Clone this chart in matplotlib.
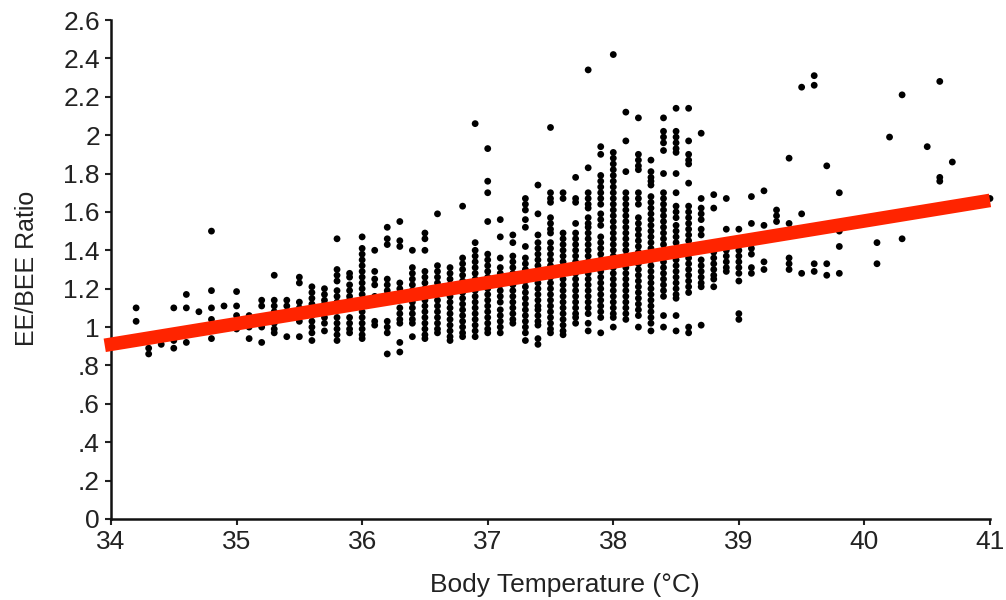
import matplotlib
matplotlib.use("Agg")
import matplotlib.pyplot as plt

plt.rcParams['font.family'] = ['Liberation Sans', 'DejaVu Sans']

# Body temperature columns (deg C) and the EE/BEE ratios read at each one
column_temps = [34.2, 34.3, 34.4, 34.5, 34.6, 34.7, 34.8, 34.9, 35.0, 35.1,
                35.2, 35.3, 35.4, 35.5, 35.6, 35.7, 35.8, 35.9, 36.0, 36.1,
                36.2, 36.3, 36.4, 36.5, 36.6, 36.7, 36.8, 36.9, 37.0, 37.1,
                37.2, 37.3, 37.4, 37.5, 37.6, 37.7, 37.8, 37.9, 38.0, 38.1,
                38.2, 38.3, 38.4, 38.5, 38.6, 38.7, 38.8, 38.9, 39.0, 39.1,
                39.2, 39.3, 39.4, 39.5, 39.6, 39.7, 39.8, 40.1, 40.2, 40.3,
                40.5, 40.6, 40.7, 41.0]

column_ratios = [
    [1.10, 1.03],
    [0.89, 0.86],
    [0.91],
    [1.10, 0.93, 0.89],
    [1.17, 1.10, 0.92],
    [1.08],
    [1.50, 1.19, 1.10, 1.04, 0.94],
    [1.11],
    [1.185, 1.11, 1.06, 0.99],
    [1.06, 1.00, 0.94],
    [1.14, 1.11, 1.00, 0.92],
    [1.27, 1.14, 1.11, 1.08, 1.05, 1.02, 0.99, 0.97],
    [1.14, 1.11, 1.08, 1.05, 0.95],
    [1.26, 1.23, 1.13, 1.10, 1.07, 1.03, 0.95],
    [1.21, 1.18, 1.15, 1.12, 1.09, 1.06, 1.03, 1.00, 0.97, 0.93],
    [1.20, 1.17, 1.14, 1.12, 1.05, 1.02, 0.98],
    [1.46, 1.30, 1.27, 1.24, 1.19, 1.16, 1.13, 1.05, 1.02, 0.99, 0.96, 0.93],
    [1.28, 1.26, 1.22, 1.19, 1.16, 1.14, 1.05, 1.02, 0.99, 0.97],
    [1.47, 1.41, 1.38, 1.35, 1.32, 1.29, 1.26, 1.23, 1.20, 1.17, 1.14, 1.11,
     1.08, 1.05, 1.02, 0.99, 0.96, 0.94],
    [1.40, 1.29, 1.25, 1.22, 1.16, 1.03, 1.01],
    [1.52, 1.46, 1.43, 1.25, 1.22, 1.19, 1.17, 1.03, 1.00, 0.97, 0.86],
    [1.55, 1.45, 1.42, 1.23, 1.20, 1.10, 1.07, 1.04, 1.02, 0.92, 0.87],
    [1.40, 1.31, 1.28, 1.25, 1.22, 1.19, 1.16, 1.13, 1.10, 1.07, 1.04, 1.02,
     0.95],
    [1.49, 1.46, 1.40, 1.29, 1.26, 1.23, 1.20, 1.17, 1.14, 1.11, 1.08, 1.05,
     1.02, 0.99, 0.96, 0.94],
    [1.59, 1.32, 1.29, 1.26, 1.23, 1.20, 1.17, 1.14, 1.11, 1.08, 1.05, 1.02,
     0.99, 0.97],
    [1.31, 1.28, 1.25, 1.22, 1.19, 1.16, 1.13, 1.10, 1.07, 1.04, 1.01, 0.98,
     0.95, 0.93],
    [1.63, 1.36, 1.33, 1.30, 1.27, 1.24, 1.21, 1.18, 1.15, 1.12, 1.09, 1.06,
     1.03, 1.00, 0.97, 0.95],
    [2.06, 1.44, 1.40, 1.37, 1.34, 1.31, 1.28, 1.25, 1.22, 1.19, 1.16, 1.13,
     1.10, 1.07, 1.04, 1.01, 0.98, 0.95],
    [1.93, 1.76, 1.70, 1.55, 1.38, 1.35, 1.32, 1.29, 1.26, 1.23, 1.20, 1.17,
     1.14, 1.11, 1.08, 1.05, 1.02, 0.99, 0.97],
    [1.56, 1.47, 1.36, 1.31, 1.28, 1.25, 1.22, 1.19, 1.16, 1.13, 1.09, 1.06,
     1.03, 1.00, 0.97],
    [1.48, 1.44, 1.37, 1.34, 1.31, 1.28, 1.25, 1.22, 1.19, 1.16, 1.13, 1.10,
     1.07, 1.04, 1.02],
    [1.67, 1.64, 1.61, 1.56, 1.52, 1.42, 1.36, 1.33, 1.30, 1.27, 1.24, 1.21,
     1.18, 1.15, 1.12, 1.09, 1.06, 1.03, 1.00, 0.97, 0.93],
    [1.74, 1.59, 1.48, 1.44, 1.41, 1.38, 1.35, 1.32, 1.29, 1.26, 1.23, 1.20,
     1.17, 1.14, 1.11, 1.09, 1.06, 1.03, 1.01, 0.94, 0.91],
    [2.04, 1.70, 1.67, 1.65, 1.57, 1.54, 1.51, 1.49, 1.44, 1.41, 1.38, 1.35,
     1.32, 1.29, 1.26, 1.23, 1.20, 1.17, 1.14, 1.11, 1.08, 1.05, 1.02, 0.99,
     0.97],
    [1.70, 1.67, 1.49, 1.46, 1.43, 1.40, 1.37, 1.34, 1.31, 1.28, 1.25, 1.22,
     1.19, 1.16, 1.13, 1.10, 1.07, 1.04, 1.01, 0.98, 0.96],
    [1.78, 1.67, 1.65, 1.54, 1.49, 1.46, 1.43, 1.40, 1.37, 1.34, 1.31, 1.28,
     1.25, 1.22, 1.19, 1.16, 1.13, 1.10, 1.07, 1.05, 1.02],
    [2.34, 1.83, 1.70, 1.67, 1.64, 1.62, 1.57, 1.54, 1.52, 1.49, 1.46, 1.43,
     1.40, 1.37, 1.34, 1.31, 1.28, 1.25, 1.22, 1.19, 1.16, 1.13, 1.10, 1.07,
     1.02, 0.98],
    [1.94, 1.90, 1.79, 1.76, 1.73, 1.70, 1.67, 1.64, 1.59, 1.56, 1.53, 1.47,
     1.44, 1.41, 1.38, 1.35, 1.32, 1.29, 1.26, 1.23, 1.20, 1.17, 1.14, 1.11,
     1.08, 1.05, 0.97],
    [2.42, 1.91, 1.88, 1.85, 1.82, 1.79, 1.76, 1.73, 1.70, 1.67, 1.64, 1.61,
     1.58, 1.55, 1.52, 1.49, 1.46, 1.43, 1.40, 1.37, 1.34, 1.31, 1.28, 1.25,
     1.22, 1.19, 1.16, 1.13, 1.10, 1.07, 1.05, 1.00],
    [2.12, 1.97, 1.81, 1.70, 1.67, 1.64, 1.61, 1.58, 1.55, 1.52, 1.49, 1.46,
     1.43, 1.40, 1.37, 1.34, 1.31, 1.28, 1.25, 1.22, 1.19, 1.16, 1.13, 1.10,
     1.07, 1.04],
    [2.09, 1.90, 1.87, 1.84, 1.82, 1.70, 1.67, 1.64, 1.57, 1.54, 1.51, 1.48,
     1.45, 1.42, 1.39, 1.36, 1.33, 1.30, 1.27, 1.24, 1.21, 1.18, 1.15, 1.12,
     1.09, 1.06, 1.00],
    [1.87, 1.81, 1.78, 1.76, 1.74, 1.68, 1.65, 1.62, 1.59, 1.56, 1.53, 1.50,
     1.47, 1.44, 1.41, 1.38, 1.35, 1.32, 1.29, 1.26, 1.23, 1.20, 1.17, 1.14,
     1.11, 1.08, 1.05, 1.02, 0.98],
    [2.09, 2.02, 1.99, 1.96, 1.92, 1.80, 1.70, 1.67, 1.64, 1.61, 1.58, 1.55,
     1.52, 1.49, 1.46, 1.43, 1.40, 1.37, 1.34, 1.31, 1.28, 1.25, 1.22, 1.19,
     1.16, 1.06, 1.00],
    [2.14, 2.02, 1.99, 1.96, 1.93, 1.91, 1.80, 1.70, 1.63, 1.60, 1.57, 1.53,
     1.50, 1.47, 1.44, 1.41, 1.38, 1.35, 1.32, 1.29, 1.26, 1.23, 1.20, 1.17,
     1.15, 1.06, 0.98],
    [2.14, 1.97, 1.90, 1.87, 1.85, 1.75, 1.63, 1.60, 1.57, 1.54, 1.51, 1.48,
     1.45, 1.36, 1.33, 1.30, 1.27, 1.24, 1.21, 1.18, 1.00, 0.97],
    [2.01, 1.67, 1.62, 1.59, 1.56, 1.51, 1.48, 1.35, 1.32, 1.29, 1.26, 1.23,
     1.21, 1.01],
    [1.69, 1.62, 1.42, 1.39, 1.36, 1.33, 1.30, 1.27, 1.25, 1.21],
    [1.67, 1.51, 1.40, 1.37, 1.34, 1.31, 1.29],
    [1.51, 1.46, 1.43, 1.40, 1.37, 1.34, 1.31, 1.28, 1.24, 1.07, 1.04],
    [1.68, 1.54, 1.44, 1.41, 1.38, 1.31, 1.28],
    [1.71, 1.53, 1.34, 1.30],
    [1.61, 1.58, 1.55],
    [1.88, 1.54, 1.36, 1.33, 1.30],
    [2.25, 1.59, 1.28],
    [2.31, 2.26, 1.33, 1.29],
    [1.84, 1.33, 1.27],
    [1.70, 1.50, 1.42, 1.28],
    [1.44, 1.33],
    [1.99],
    [2.21, 1.46],
    [1.94],
    [2.28, 1.78, 1.76],
    [1.86],
    [1.67],
]

# Regression line end points
fit_temps = [33.95, 41.0]
fit_ratios = [0.905, 1.66]

x_ticks = [34, 35, 36, 37, 38, 39, 40, 41]
y_ticks = [0, 0.2, 0.4, 0.6, 0.8, 1.0, 1.2, 1.4, 1.6, 1.8, 2.0, 2.2, 2.4, 2.6]
y_tick_labels = ["0", ".2", ".4", ".6", ".8", "1", "1.2", "1.4", "1.6",
                 "1.8", "2", "2.2", "2.4", "2.6"]

fig = plt.figure(figsize=(10.06, 6.0), dpi=100)
ax = fig.add_axes([111 / 1006, 1 - 519 / 600, (990 - 111) / 1006, (519 - 20) / 600])

xs, ys = [], []
for t, col in zip(column_temps, column_ratios):
    for r in col:
        xs.append(t)
        ys.append(r)
ax.scatter(xs, ys, s=24, c='black', edgecolors='none', zorder=2, clip_on=False)

ax.plot(fit_temps, fit_ratios, color='#FF2400', linewidth=9.8,
        solid_capstyle='butt', zorder=3, clip_on=False)

ax.set_xlim(34, 41)
ax.set_ylim(0, 2.6)
ax.set_xticks(x_ticks)
ax.set_xticklabels([str(v) for v in x_ticks])
ax.set_yticks(y_ticks)
ax.set_yticklabels(y_tick_labels)

for side in ['top', 'right']:
    ax.spines[side].set_visible(False)
for side in ['left', 'bottom']:
    ax.spines[side].set_linewidth(1.8)
    ax.spines[side].set_color('#111111')

ax.tick_params(axis='both', direction='out', length=4, width=1.5,
               labelsize=19, colors='#222222', pad=4)

ax.set_xlabel("Body Temperature (°C)", fontsize=19, color='#222222')
ax.xaxis.set_label_coords((565 - 111) / (990 - 111), -(585 - 519) / (519 - 20),
                          transform=ax.transAxes)
ax.xaxis.label.set_verticalalignment('center')
ax.set_ylabel("EE/BEE Ratio", fontsize=18, color='#222222')
ax.yaxis.set_label_coords(-(111 - 27) / (990 - 111), (519 - 268) / (519 - 20),
                          transform=ax.transAxes)
ax.yaxis.label.set_verticalalignment('center')

fig.savefig("out.png", dpi=100)
